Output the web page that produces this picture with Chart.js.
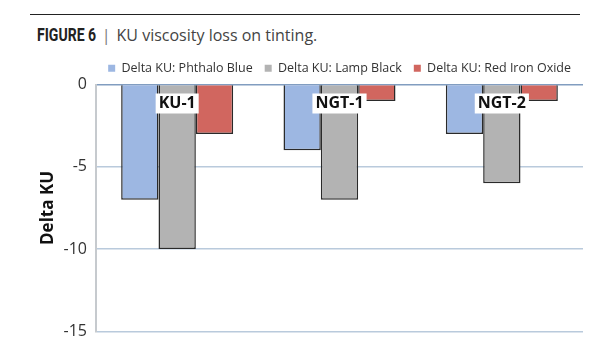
<!DOCTYPE html>
<html>
<head>
<meta charset="utf-8">
<script src="https://cdn.jsdelivr.net/npm/chart.js@4"></script>
<style>
  body { margin: 0; background: #fff; }
  #wrap { position: relative; width: 615px; height: 350px; overflow: hidden; }
  #rule { position: absolute; left: 30px; top: 14px; width: 550px; border-top: 1.5px solid #222; }
  #title { position: absolute; left: 37px; top: 24px; font-family: 'Open Sans', sans-serif; font-size: 16px; color: #444; white-space: nowrap; }
  #title b { display: inline-block; font-family: 'Roboto', sans-serif; font-size: 18px; color: #222; transform: scaleX(0.78); transform-origin: left center; margin-right: -17px; }
  #title span { color: #777; margin: 0 6px; }
  canvas { position: absolute; left: 0; top: 0; }
</style>
</head>
<body>
<div id="wrap">
  <div id="rule"></div>
  <div id="title"><b>FIGURE 6</b><span>|</span>KU viscosity loss on tinting.</div>
  <canvas id="chart_canvas" width="615" height="350"></canvas>
</div>
<script>
const categories = ['KU-1', 'NGT-1', 'NGT-2'];
const phthaloBlue = [-7, -4, -3];
const lampBlack = [-10, -7, -6];
const redIronOxide = [-3, -1, -1];
const yTicks = [0, -5, -10, -15];

// category names sit on the grey bars, in white boxes
const categoryLabels = {
  id: 'categoryLabels',
  afterDatasetsDraw(chart) {
    const ctx = chart.ctx;
    const meta = chart.getDatasetMeta(1);
    const top = chart.scales.y.getPixelForValue(0);
    ctx.save();
    ctx.font = 'bold 16px "Open Sans"';
    ctx.textAlign = 'center';
    ctx.textBaseline = 'middle';
    meta.data.forEach((bar, i) => {
      const w = ctx.measureText(categories[i]).width + 6;
      ctx.fillStyle = '#fff';
      ctx.fillRect(bar.x - w / 2, top + 9, w, 20);
      ctx.fillStyle = '#111';
      ctx.fillText(categories[i], bar.x, top + 19);
    });
    ctx.restore();
  }
};

let ctx = document.getElementById('chart_canvas');
let viscosityChart = new Chart(ctx, { // eslint-disable-line no-unused-vars, no-undef
  type: 'bar',
  data: {
    labels: categories,
    datasets: [{
      label: 'Delta KU: Phthalo Blue',
      data: phthaloBlue,
      backgroundColor: '#9db7e2'
    }, {
      label: 'Delta KU: Lamp Black',
      data: lampBlack,
      backgroundColor: '#b3b3b3'
    }, {
      label: 'Delta KU: Red Iron Oxide',
      data: redIronOxide,
      backgroundColor: '#d1665f'
    }]
  },
  options: {
    responsive: false,
    animation: false,
    layout: { padding: { top: 50, right: 32, bottom: 17, left: 0 } },
    datasets: {
      bar: { categoryPercentage: 0.69, barPercentage: 1, borderWidth: 1.5, borderColor: '#2a2a2a' }
    },
    plugins: {
      tooltip: { enabled: false },
      legend: {
        position: 'top',
        align: 'end',
        labels: {
          font: { family: 'Open Sans', size: 12.5 },
          color: '#333',
          boxWidth: 7,
          boxHeight: 7,
          padding: 12,
          generateLabels(chart) {
            return Chart.defaults.plugins.legend.labels.generateLabels(chart).map(item => {
              item.lineWidth = 0;
              item.strokeStyle = item.fillStyle;
              return item;
            });
          }
        }
      }
    },
    scales: {
      x: { display: false },
      y: {
        min: -15,
        max: 0,
        afterBuildTicks(scale) { scale.ticks = yTicks.map(v => ({ value: v })); },
        afterFit(scale) { scale.width = 96; },
        ticks: { font: { family: 'Open Sans', size: 16 }, color: '#333', padding: 9 },
        grid: {
          drawTicks: false,
          lineWidth: 1.5,
          color: (c) => (c.tick && c.tick.value === 0 ? '#819dc0' : '#b9cadc')
        },
        border: { color: '#c6cace', width: 2 },
        title: {
          display: true,
          text: 'Delta KU',
          font: { family: 'Open Sans', size: 17, weight: 'bold' },
          color: '#111',
          padding: { top: 38, bottom: 0 }
        }
      }
    }
  },
  plugins: [categoryLabels]
});
</script>
</body>
</html>
